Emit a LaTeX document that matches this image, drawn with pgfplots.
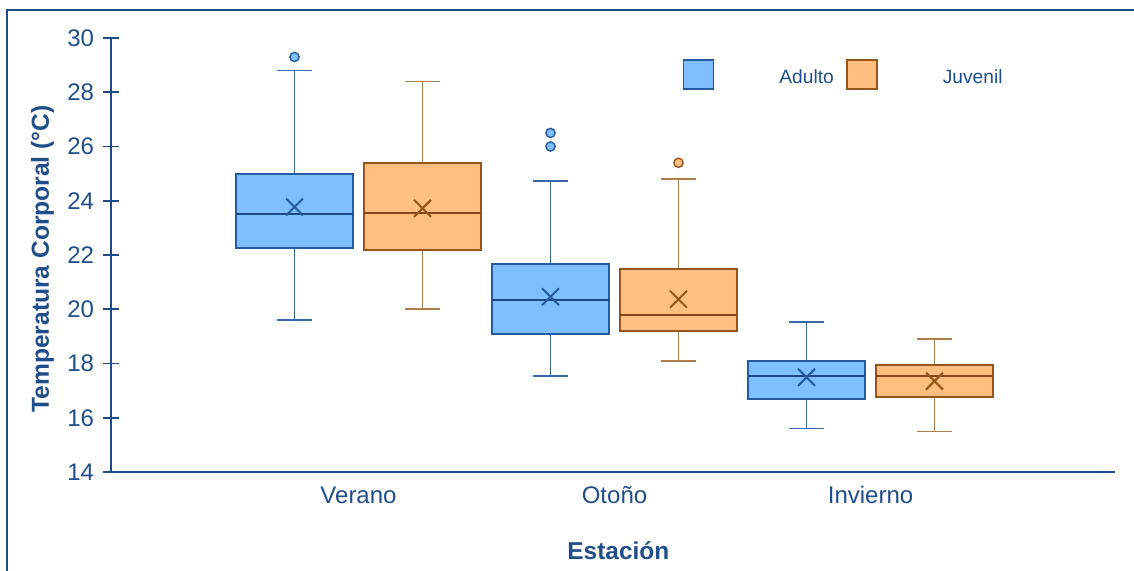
\documentclass[border=0pt]{standalone}
\usepackage{pgfplots}
\pgfplotsset{compat=1.18}
\usepgfplotslibrary{statistics}
\usepackage{fontspec}
\setmainfont{Liberation Sans}

\definecolor{textblue}{RGB}{32,78,138}
\definecolor{axisblue}{RGB}{30,76,136}
\definecolor{adultfill}{RGB}{128,191,255}
\definecolor{adultedge}{RGB}{36,90,158}
\definecolor{adultmed}{RGB}{28,72,130}
\definecolor{adultwhisk}{RGB}{52,104,168}
\definecolor{juvfill}{RGB}{255,191,128}
\definecolor{juvedge}{RGB}{150,86,26}
\definecolor{juvmed}{RGB}{130,72,20}
\definecolor{juvwhisk}{RGB}{176,126,76}

\pgfplotsset{
  adultbox/.style={
    draw=adultedge, fill=adultfill, line width=1bp,
    boxplot/draw direction=y,
    boxplot/box extend=0.457,
    boxplot/whisker extend=0.137,
    boxplot/every whisker/.style={draw=adultwhisk, line width=0.8bp},
    boxplot/every median/.style={draw=adultmed, line width=1bp},
    boxplot/every average/.style={/tikz/mark=x, /tikz/mark size=6bp,
      /tikz/mark options={draw=adultmed, fill=none, line width=0.8bp}},
    mark=*, mark size=2.3bp,
    mark options={fill=adultfill, draw=adultedge, line width=0.7bp},
    legend image code/.code={
      \draw[draw=adultedge, fill=adultfill, line width=0.7bp] (0bp,-3bp) rectangle (15bp,11.5bp);
      \path (-6bp,0bp) (47.5bp,0bp);},
  },
  juvbox/.style={
    draw=juvedge, fill=juvfill, line width=1bp,
    boxplot/draw direction=y,
    boxplot/box extend=0.457,
    boxplot/whisker extend=0.137,
    boxplot/every whisker/.style={draw=juvwhisk, line width=0.8bp},
    boxplot/every median/.style={draw=juvmed, line width=1bp},
    boxplot/every average/.style={/tikz/mark=x, /tikz/mark size=6bp,
      /tikz/mark options={draw=juvmed, fill=none, line width=0.8bp}},
    mark=*, mark size=2.3bp,
    mark options={fill=juvfill, draw=juvedge, line width=0.7bp},
    legend image code/.code={
      \draw[draw=juvedge, fill=juvfill, line width=0.7bp] (0bp,-3bp) rectangle (15bp,11.5bp);
      \path (-6bp,0bp) (47.5bp,0bp);},
  },
}

\begin{document}
\begin{tikzpicture}
\useasboundingbox (0bp,0bp) rectangle (567bp,285.5bp);
% outer frame
\draw[axisblue, line width=1bp] (3.5bp,0bp) -- (3.5bp,280.5bp) -- (567bp,280.5bp);
\begin{axis}[
  at={(55.5bp,49.5bp)}, anchor=south west,
  scale only axis, width=502bp, height=217bp,
  xmin=0.0332, xmax=3.955, ymin=14, ymax=30,
  axis x line*=bottom, axis y line*=left,
  axis line style={axisblue, line width=0.9bp},
  ytick={14,16,...,30},
  xtick={1,2,3}, xticklabels={Verano,Otoño,Invierno},
  x tick style={draw=none},
  y tick style={axisblue, line width=0.9bp},
  tick align=center, major tick length=7.5bp,
  /pgf/number format/assume math mode=true,
  tick label style={font=\fontsize{12bp}{14bp}\selectfont, text=textblue, inner sep=0pt},
  yticklabel style={anchor=east, xshift=-4.5bp},
  xticklabel style={anchor=base, yshift=-12bp},
  xlabel={Estación},
  ylabel={Temperatura Corporal (°C)},
  xlabel style={font=\fontsize{12.2bp}{14bp}\selectfont\bfseries, text=textblue,
    at={(axis description cs:0.5053,-0.2012)}, anchor=base},
  ylabel style={font=\fontsize{12.3bp}{14bp}\selectfont\bfseries, text=textblue,
    at={(axis description cs:-0.0618,0.4908)}, anchor=base},
  legend columns=2,
  legend style={draw=none, fill=none, inner sep=0pt, column sep=0pt, row sep=0pt,
    at={(axis description cs:0.5568,0.9516)}, anchor=north west,
    font=\fontsize{9.6bp}{11bp}\selectfont, text=textblue,
    nodes={inner sep=0pt}, cells={anchor=base west}},
]
% Verano
\addplot[boxplot prepared={draw position=0.75, lower whisker=19.6, lower quartile=22.25,
  median=23.5, upper quartile=25.0, upper whisker=28.8, average=23.77}, adultbox]
  table[row sep=\\, y index=0] {y\\ 29.3\\};
\addlegendentry{Adulto}
\addplot[boxplot prepared={draw position=1.25, lower whisker=20.0, lower quartile=22.2,
  median=23.55, upper quartile=25.4, upper whisker=28.4, average=23.72}, juvbox]
  coordinates {};
\addlegendentry{Juvenil}
% Otoño
\addplot[boxplot prepared={draw position=1.75, lower whisker=17.53, lower quartile=19.1,
  median=20.33, upper quartile=21.68, upper whisker=24.73, average=20.46}, adultbox, forget plot]
  table[row sep=\\, y index=0] {y\\ 26.0\\ 26.5\\};
\addplot[boxplot prepared={draw position=2.25, lower whisker=18.1, lower quartile=19.2,
  median=19.8, upper quartile=21.5, upper whisker=24.8, average=20.37}, juvbox, forget plot]
  table[row sep=\\, y index=0] {y\\ 25.4\\};
% Invierno
\addplot[boxplot prepared={draw position=2.75, lower whisker=15.6, lower quartile=16.68,
  median=17.53, upper quartile=18.09, upper whisker=19.52, average=17.49}, adultbox, forget plot]
  coordinates {};
\addplot[boxplot prepared={draw position=3.25, lower whisker=15.49, lower quartile=16.76,
  median=17.53, upper quartile=17.94, upper whisker=18.9, average=17.35}, juvbox, forget plot]
  coordinates {};
\end{axis}
\end{tikzpicture}
\end{document}
